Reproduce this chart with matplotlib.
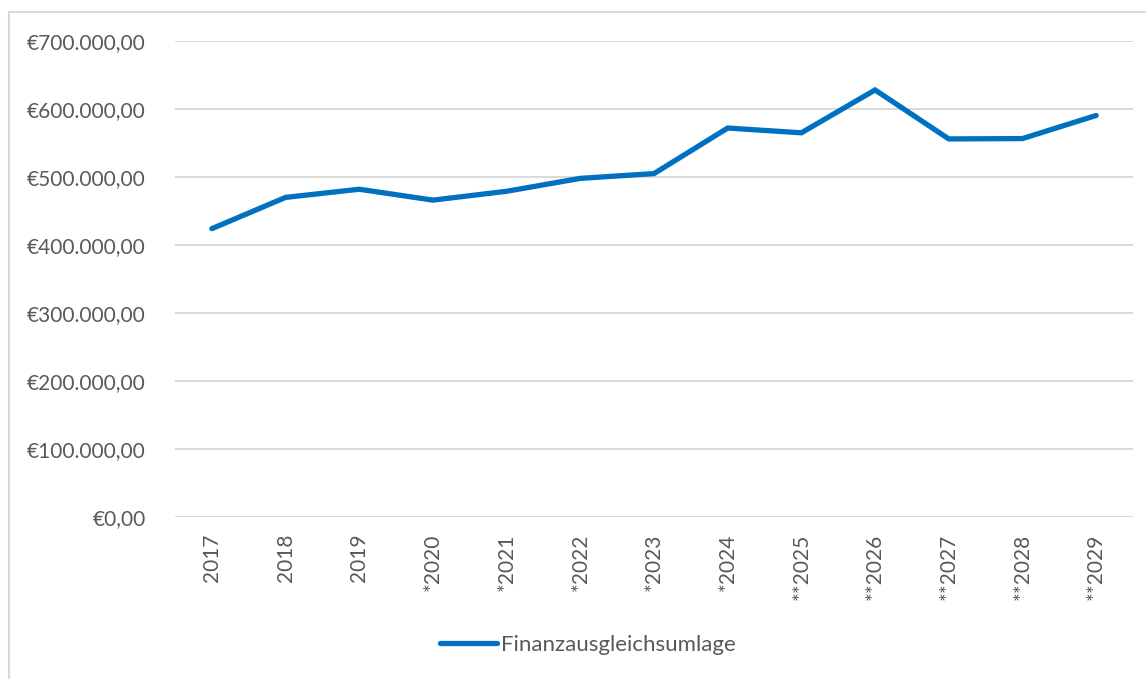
import matplotlib
matplotlib.use("Agg")
import matplotlib.pyplot as plt
from matplotlib.patches import Rectangle
from matplotlib.ticker import FuncFormatter

categories = ["2017", "2018", "2019", "*2020", "*2021", "*2022", "*2023",
              "*2024", "**2025", "**2026", "**2027", "**2028", "**2029"]
values = [424000, 470000, 482000, 466000, 479000, 498000, 505000,
          572000, 565000, 628000, 556000, 556500, 590500]
series_name = "Finanzausgleichsumlage"
yticks = [0, 100000, 200000, 300000, 400000, 500000, 600000, 700000]

W, H = 1146, 679
fig = plt.figure(figsize=(W / 100, H / 100), dpi=100)
plt.rcParams['font.family'] = ['Lato', 'DejaVu Sans']

ax = fig.add_axes([175 / W, 1 - 517 / H, (1133 - 175) / W, (517 - 41) / H])
x = list(range(len(categories)))
line, = ax.plot(x, values, color="#0070C0", lw=3.8, solid_capstyle="round",
                solid_joinstyle="miter", label=series_name, zorder=3)

ax.set_xlim(-0.5, len(categories) - 0.5)
ax.set_ylim(0, 700000)
ax.set_yticks(yticks)


def euro(v, pos):
    s = f"{v:,.2f}"
    s = s.replace(",", "X").replace(".", ",").replace("X", ".")
    return "€" + s


ax.yaxis.set_major_formatter(FuncFormatter(euro))
ax.set_xticks(x)
ax.set_xticklabels(categories, rotation=90, va="top", ha="center")
ax.grid(axis="y", color="#D9D9D9", lw=1.4)
ax.set_axisbelow(True)
for s in ax.spines.values():
    s.set_visible(False)
ax.tick_params(axis="both", length=0, colors="#595959", labelsize=15)
ax.tick_params(axis="y", pad=21)
ax.tick_params(axis="x", pad=12)

leg = fig.legend(handles=[line], loc="center", bbox_to_anchor=(588 / W, 1 - 645 / H),
                 frameon=False, fontsize=16, handlelength=2.55, handletextpad=0.18,
                 labelcolor="#595959")

fig.patches.append(Rectangle((9 / W, -0.05), 1.2, 1 - 12 / H + 0.05,
                             transform=fig.transFigure, fill=False,
                             edgecolor="#D9D9D9", lw=1.5))

fig.savefig("out.png", dpi=100)
